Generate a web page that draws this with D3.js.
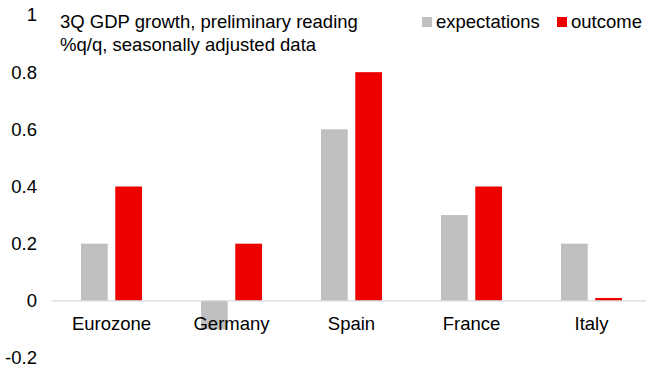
<!DOCTYPE html>
<html>
<head>
<meta charset="utf-8">
<script src="https://cdn.jsdelivr.net/npm/d3@7/dist/d3.min.js"></script>
<style>
  html, body { margin: 0; padding: 0; background: #fff; }
  svg { display: block; font-family: "Liberation Sans", Arial, sans-serif; }
</style>
</head>
<body>
<svg id="chart" width="646" height="371"></svg>
<script>
// GDP growth, preliminary reading, % q/q
const countries = ["Eurozone", "Germany", "Spain", "France", "Italy"];
const expectations = [0.2, -0.1, 0.6, 0.3, 0.2];
const outcome = [0.4, 0.2, 0.8, 0.4, 0.01];
const yTicks = [-0.2, 0, 0.2, 0.4, 0.6, 0.8, 1];
const yTickLabels = ["-0.2", "0", "0.2", "0.4", "0.6", "0.8", "1"];
const seriesNames = ["expectations", "outcome"];
const seriesColors = ["#bfbfbf", "#ee0000"];
const titleLines = ["3Q GDP growth, preliminary reading", "%q/q, seasonally adjusted data"];

const svg = d3.select("#chart");
const W = 646, H = 371;
const FS = 18.5;

const x = d3.scaleBand().domain(countries).range([51.5, 651.5]);
const inner = d3.scaleBand().domain(seriesNames).range([29.5, 90.5]).paddingInner(0.22);
const y = d3.scaleLinear().domain([-0.2, 1]).range([358, 15]);

// bars
const rows = countries.map((c, i) => ({ c, vals: [expectations[i], outcome[i]] }));
const g = svg.append("g");
rows.forEach(r => {
  r.vals.forEach((v, k) => {
    g.append("rect")
      .attr("x", x(r.c) + inner(seriesNames[k]))
      .attr("width", inner.bandwidth())
      .attr("y", y(Math.max(0, v)))
      .attr("height", Math.abs(y(v) - y(0)))
      .attr("fill", seriesColors[k]);
  });
});

// zero line
svg.append("line")
  .attr("x1", 52).attr("x2", W)
  .attr("y1", y(0)).attr("y2", y(0))
  .attr("stroke", "#d9d9d9").attr("stroke-width", 1.3);

// y axis labels
const yAxis = d3.axisLeft(y).tickValues(yTicks).tickSize(0).tickPadding(0)
  .tickFormat((d, i) => yTickLabels[i]);
const ya = svg.append("g").attr("transform", "translate(37,0)").call(yAxis);
ya.select(".domain").remove();
ya.selectAll("text").attr("font-size", FS).attr("fill", "#000")
  .attr("font-family", "Liberation Sans, Arial, sans-serif");

// category labels
const xAxis = d3.axisBottom(x).tickSize(0).tickPadding(0);
const xa = svg.append("g").attr("transform", "translate(0,317)").call(xAxis);
xa.select(".domain").remove();
xa.selectAll("text").attr("font-size", FS).attr("fill", "#000").attr("dy", "0.71em")
  .attr("font-family", "Liberation Sans, Arial, sans-serif");

// title
svg.append("g").selectAll("text").data(titleLines).join("text")
  .attr("x", 60).attr("y", (d, i) => 28 + i * 22.5)
  .attr("font-size", FS).attr("fill", "#000")
  .text(d => d);

// legend
const legend = [
  { name: seriesNames[0], color: seriesColors[0], sx: 422, tx: 436 },
  { name: seriesNames[1], color: seriesColors[1], sx: 557, tx: 571 }
];
const lg = svg.append("g");
legend.forEach(l => {
  lg.append("rect").attr("x", l.sx).attr("y", 17).attr("width", 10).attr("height", 10).attr("fill", l.color);
  lg.append("text").attr("x", l.tx).attr("y", 28).attr("font-size", FS).attr("fill", "#000").text(l.name);
});
</script>
</body>
</html>
